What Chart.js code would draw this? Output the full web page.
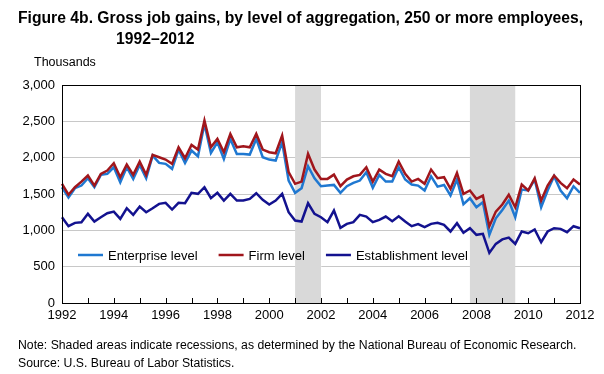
<!DOCTYPE html>
<html>
<head>
<meta charset="utf-8">
<script src="https://cdn.jsdelivr.net/npm/chart.js@4.4.0/dist/chart.umd.min.js"></script>
<style>
    body { margin: 0; width: 604px; height: 374px; background: #fff; position: relative; overflow: hidden;
           font-family: "Liberation Sans", Arial, sans-serif; color: #000; }
    #jobChart { position: absolute; left: 0; top: 0; }
    .txt { position: absolute; white-space: nowrap; transform-origin: 0 0; }
    .title { font-weight: bold; font-size: 16px; }
</style>
</head>
<body>
<canvas id="jobChart" width="604" height="374"></canvas>
<div class="txt title" id="title1" style="left:18px; top:9px;">Figure 4b. Gross job gains, by level of aggregation, 250 or more employees,</div>
<div class="txt title" id="title2" style="left:116px; top:30px;">1992–2012</div>
<div class="txt" style="left:34px; top:55px; font-size:12.5px;">Thousands</div>
<div class="txt" id="note1" style="left:18px; top:338px; font-size:12.5px;">Note: Shaded areas indicate recessions, as determined by the National Bureau of Economic Research.</div>
<div class="txt" id="note2" style="left:18px; top:356px; font-size:12.5px;">Source: U.S. Bureau of Labor Statistics.</div>

<script>
// quarterly, 1992 Q1 - 2012 Q1
const years = [1992, 1993, 1994, 1995, 1996, 1997, 1998, 1999, 2000, 2001, 2002,
               2003, 2004, 2005, 2006, 2007, 2008, 2009, 2010, 2011, 2012];

const enterprise = [
    1593, 1451, 1580, 1616, 1717, 1593, 1763, 1777, 1868, 1662, 1868, 1708, 1901, 1717, 2029, 1928,
    1915, 1846, 2111, 1928, 2098, 2019, 2465, 2066, 2212, 1983, 2258, 2052, 2052, 2043, 2258, 2006,
    1974, 1960, 2212, 1685, 1516, 1580, 1882, 1717, 1607, 1616, 1625, 1516, 1607, 1653, 1685, 1800,
    1585, 1763, 1671, 1671, 1868, 1699, 1630, 1616, 1548, 1744, 1602, 1625, 1479, 1699, 1359, 1442,
    1318, 1387, 938, 1166, 1280, 1410, 1180, 1561, 1548, 1699, 1318, 1548, 1744, 1548, 1442, 1607,
    1516
];
const firm = [
    1640, 1490, 1593, 1671, 1754, 1616, 1777, 1823, 1923, 1731, 1905, 1763, 1946, 1763, 2038, 2006,
    1974, 1915, 2143, 1992, 2176, 2111, 2510, 2143, 2258, 2075, 2327, 2143, 2157, 2143, 2327, 2111,
    2075, 2061, 2304, 1800, 1640, 1671, 2052, 1836, 1708, 1708, 1767, 1607, 1699, 1744, 1763, 1868,
    1671, 1836, 1777, 1744, 1946, 1777, 1671, 1708, 1640, 1836, 1717, 1731, 1571, 1790, 1502, 1548,
    1433, 1479, 1057, 1258, 1355, 1490, 1318, 1630, 1548, 1717, 1410, 1616, 1754, 1653, 1580, 1699,
    1630
];
const establishment = [
    1180, 1057, 1103, 1112, 1227, 1121, 1180, 1235, 1258, 1158, 1304, 1213, 1327, 1249, 1304, 1364,
    1378, 1286, 1378, 1373, 1516, 1502, 1593, 1442, 1516, 1410, 1502, 1410, 1410, 1433, 1511, 1420,
    1355, 1410, 1502, 1249, 1135, 1121, 1373, 1227, 1180, 1112, 1272, 1034, 1089, 1112, 1213, 1190,
    1112, 1144, 1190, 1126, 1194, 1121, 1057, 1085, 1043, 1089, 1103, 1075, 984, 1098, 966, 1029,
    938, 952, 690, 814, 875, 900, 814, 984, 960, 1011, 836, 984, 1029, 1020, 974, 1057,
    1029
];

// recessions (first and last quarter label of the shaded band)
const recessionStart = ["2001 Q1", "2007 Q4"];
const recessionEnd = ["2002 Q1", "2009 Q3"];

const yTicks = [0, 500, 1000, 1500, 2000, 2500, 3000];

let labels = [];
years.forEach(y => {
    for (let q = 1; q <= 4; q++) {
        if (y === 2012 && q > 1) break;
        labels.push(y + " Q" + q);
    }
});

const colors = { enterprise: '#1f78d1', firm: '#a0161c', establishment: '#13128f' };

// recession bands, drawn over the grid but under the lines
const recessionPlugin = {
    id: 'recessions',
    beforeDatasetsDraw(chart) {
        const { ctx, chartArea, scales } = chart;
        ctx.save();
        ctx.fillStyle = '#d9d9d9';
        recessionStart.forEach((s, i) => {
            let x0 = scales.x.getPixelForValue(labels.indexOf(s));
            let x1 = scales.x.getPixelForValue(labels.indexOf(recessionEnd[i]));
            ctx.fillRect(x0, chartArea.top, x1 - x0, chartArea.bottom - chartArea.top);
        });
        ctx.restore();
    }
};

// box around the plot + year tick marks pointing up
const framePlugin = {
    id: 'frame',
    afterDatasetsDraw(chart) {
        const { ctx, chartArea, scales } = chart;
        ctx.save();
        ctx.strokeStyle = '#000';
        ctx.lineWidth = 1;
        ctx.strokeRect(Math.round(chartArea.left) + 0.5, Math.round(chartArea.top) + 0.5,
            Math.round(chartArea.right - chartArea.left), Math.round(chartArea.bottom - chartArea.top));
        ctx.beginPath();
        labels.forEach((l, i) => {
            if (l.endsWith("Q1")) {
                let x = Math.round(scales.x.getPixelForValue(i)) + 0.5;
                ctx.moveTo(x, chartArea.bottom);
                ctx.lineTo(x, chartArea.bottom - 5);
            }
        });
        ctx.stroke();
        ctx.restore();
    }
};

// legend inside the plot area
const legendPlugin = {
    id: 'insideLegend',
    afterDraw(chart) {
        const { ctx } = chart;
        ctx.save();
        ctx.font = '13px "Liberation Sans", Arial, sans-serif';
        ctx.textBaseline = 'middle';
        let x = 78, y = 255;
        chart.data.datasets.forEach(ds => {
            ctx.strokeStyle = ds.borderColor;
            ctx.lineWidth = 2.5;
            ctx.beginPath();
            ctx.moveTo(x, y);
            ctx.lineTo(x + 25, y);
            ctx.stroke();
            ctx.fillStyle = '#000';
            ctx.fillText(ds.label, x + 30, y + 1);
            x += 30 + ctx.measureText(ds.label).width + 21;
        });
        ctx.restore();
    }
};

function fitText(id, target) {
    let el = document.getElementById(id);
    let s = target / el.offsetWidth;
    el.style.transform = `scaleX(${s})`;
    return s;
}

document.addEventListener("DOMContentLoaded", () => {
    let s = fitText('title1', 565);
    document.getElementById('title2').style.transform = `scaleX(${s})`;
    fitText('note1', 558);
    document.getElementById('note2').style.transform = `scaleX(${558 / document.getElementById('note1').offsetWidth})`;

    var ctx = document.getElementById('jobChart').getContext('2d');
    new Chart(ctx, {
        type: 'line',
        data: {
            labels: labels,
            datasets: [
                { label: 'Enterprise level', data: enterprise, borderColor: colors.enterprise, order: 2 },
                { label: 'Firm level', data: firm, borderColor: colors.firm, order: 1 },
                { label: 'Establishment level', data: establishment, borderColor: colors.establishment, order: 3 }
            ]
        },
        options: {
            responsive: false,
            animation: false,
            devicePixelRatio: 1,
            layout: { padding: { left: 0, right: 24, top: 85, bottom: 41 } },
            elements: {
                line: { borderWidth: 2.5, tension: 0, fill: false },
                point: { radius: 0 }
            },
            plugins: {
                legend: { display: false },
                title: { display: false },
                tooltip: { enabled: false }
            },
            scales: {
                x: {
                    type: 'category',
                    offset: false,
                    grid: { display: false, drawTicks: false },
                    border: { color: '#000' },
                    afterFit: (scale) => { scale.height = 30; },
                    ticks: {
                        autoSkip: false,
                        maxRotation: 0,
                        padding: 5,
                        color: '#000',
                        font: { family: '"Liberation Sans", Arial, sans-serif', size: 13 },
                        callback: function (value) {
                            let l = this.getLabelForValue(value);
                            let y = parseInt(l);
                            return (l.endsWith("Q1") && y % 2 === 0) ? String(y) : '';
                        }
                    }
                },
                y: {
                    min: yTicks[0],
                    max: yTicks[yTicks.length - 1],
                    grid: { color: '#c8c8c8', drawTicks: false },
                    border: { color: '#000' },
                    afterFit: (scale) => { scale.width = 62; },
                    afterBuildTicks: (scale) => { scale.ticks = yTicks.map(v => ({ value: v })); },
                    ticks: {
                        padding: 7,
                        color: '#000',
                        font: { family: '"Liberation Sans", Arial, sans-serif', size: 13 },
                        callback: (v) => v.toLocaleString('en-US')
                    }
                }
            }
        },
        plugins: [recessionPlugin, framePlugin, legendPlugin]
    });
});
</script>
</body>
</html>
